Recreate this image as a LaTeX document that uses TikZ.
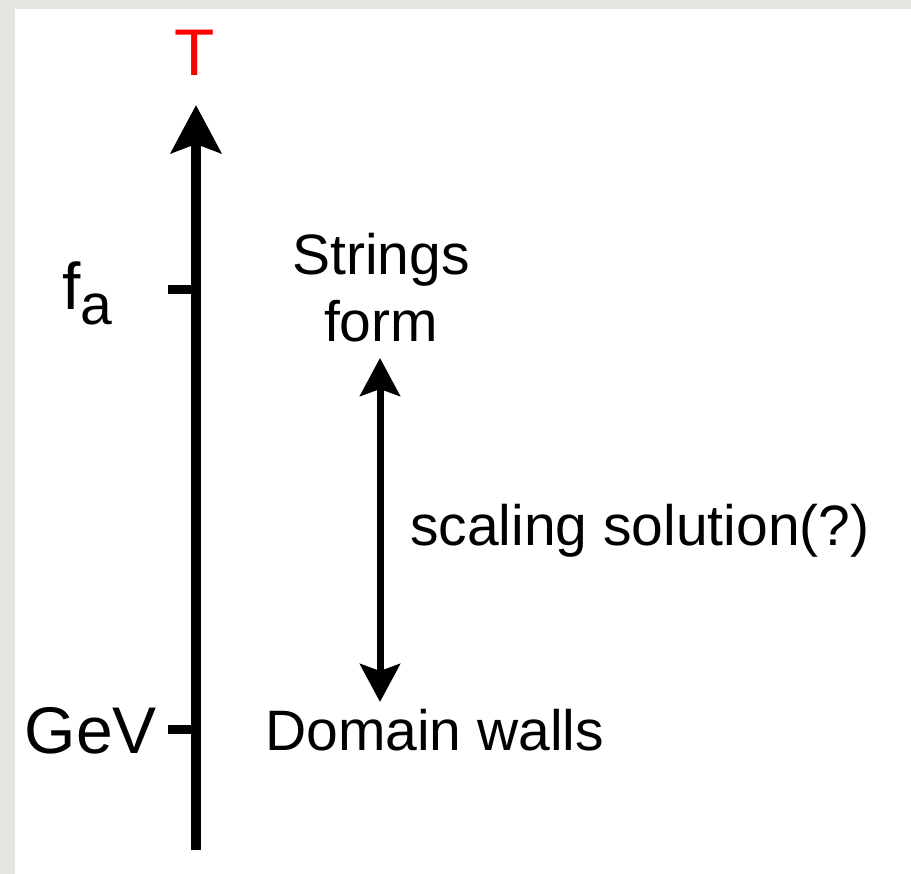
\documentclass[tikz,border=0pt]{standalone}
\usepackage{fontspec}
\setmainfont{Liberation Sans}
\usepackage{xcolor}
\usetikzlibrary{arrows.meta, positioning}
\definecolor{frame}{HTML}{E6E4DE}

\begin{document}
\begin{tikzpicture}[
        x=1pt, y=-1pt,
        axis/.style={line width=10pt, -{Stealth[length=48pt, width=50pt, inset=9pt]}},
        tick/.style={line width=9pt},
        span/.style={line width=7pt, {Stealth[length=38pt, width=40pt, inset=7pt]}-{Stealth[length=38pt, width=40pt, inset=7pt]}},
        big/.style={font=\fontsize{66}{70}\selectfont, inner sep=0pt},
        lbl/.style={font=\fontsize{57}{67}\selectfont, inner sep=0pt, align=center}
    ]
        % paper and frame
        \fill[frame] (0,0) rectangle (911,874);
        \fill[white] (15,9) rectangle (911,874);
        \useasboundingbox (0,0) rectangle (911,874);

        \coordinate (axbot) at (196,850);
        \coordinate (axtop) at (196,105);
        \coordinate (fa) at (196,290);
        \coordinate (gev) at (196,729);

        \node[big, red, anchor=base] (temp) at (195,76) {T};
        \node[big, anchor=base west] (falbl) at (62,310) {f{\fontsize{57}{60}\selectfont\raisebox{-15pt}{a}}};
        \node[big, anchor=base east] (gevlbl) at (157,753) {GeV};

        \node[lbl, anchor=base] (strings) at (381,342) {Strings\\form};
        \node[lbl, anchor=base west] (scaling) at (410,545) {scaling solution(?)};
        \node[lbl, anchor=base west] (walls) at (265,750) {Domain walls};

        \coordinate (top) at (380,358);
        \coordinate (bot) at (380,702);

        \draw[axis] (axbot) -- (axtop);
        \draw[tick] (fa) -- ++(-28,0);
        \draw[tick] (gev) -- ++(-28,0);
        \draw[span] (top) -- (bot);
    \end{tikzpicture}
\end{document}
